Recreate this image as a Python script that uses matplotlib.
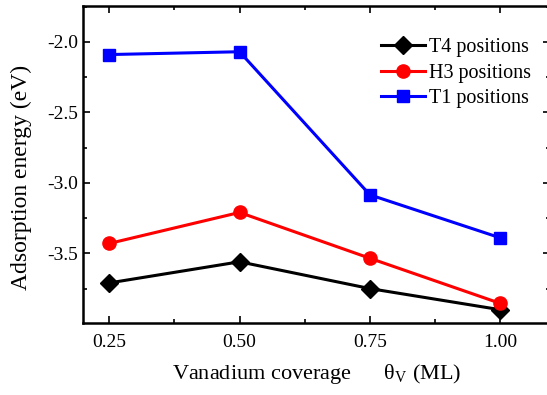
import matplotlib
matplotlib.use("Agg")
import matplotlib.pyplot as plt
from matplotlib.ticker import MultipleLocator

# Data
coverage = [0.25, 0.50, 0.75, 1.00]
t4 = [-3.71, -3.56, -3.75, -3.90]
h3 = [-3.43, -3.21, -3.535, -3.855]
t1 = [-2.09, -2.07, -3.085, -3.39]

plt.rcParams['font.family'] = ['Liberation Serif', 'DejaVu Serif']
plt.rcParams['mathtext.fontset'] = 'custom'
plt.rcParams['mathtext.rm'] = 'Liberation Serif'
plt.rcParams['axes.unicode_minus'] = False

fig = plt.figure(figsize=(5.47, 3.95), dpi=100)
# right spine sits just past the image edge, like the cropped original
ax = fig.add_axes([0.152, 0.182, 0.853, 0.803])

ax.plot(coverage, t4, color='black', marker='D', markersize=9, lw=2.2, label='T4 positions')
ax.plot(coverage, h3, color='red', marker='o', markersize=9.5, lw=2.2, label='H3 positions')
ax.plot(coverage, t1, color='blue', marker='s', markersize=9, lw=2.2, label='T1 positions')

ax.set_xlim(0.2, 1.095)
ax.set_ylim(-3.995, -1.745)
ax.set_xticks(coverage)
ax.set_xticklabels(['0.25', '0.50', '0.75', '1.00'])
ax.xaxis.set_minor_locator(MultipleLocator(0.125))
ax.yaxis.set_major_locator(MultipleLocator(0.5))
ax.yaxis.set_minor_locator(MultipleLocator(0.25))
ax.tick_params(which='both', direction='in', top=True, right=True, labelsize=14)
ax.tick_params(which='major', length=5, width=1.2)
ax.tick_params(which='minor', length=3, width=1.2)
ax.tick_params(axis='x', pad=8)
for s in ax.spines.values():
    s.set_linewidth(1.8)

ax.set_xlabel('Vanadium coverage      θ$_\\mathrm{V}$ (ML)', fontsize=16, labelpad=8)
ax.set_ylabel('Adsorption energy (eV)', fontsize=17)
ax.yaxis.set_label_coords(-0.11, 0.46)

ax.legend(loc='upper right', frameon=False, fontsize=14.5, handlelength=2.2,
          handletextpad=0.2, labelspacing=0.3, bbox_to_anchor=(0.999, 0.955))

fig.savefig('out.png', dpi=100)
